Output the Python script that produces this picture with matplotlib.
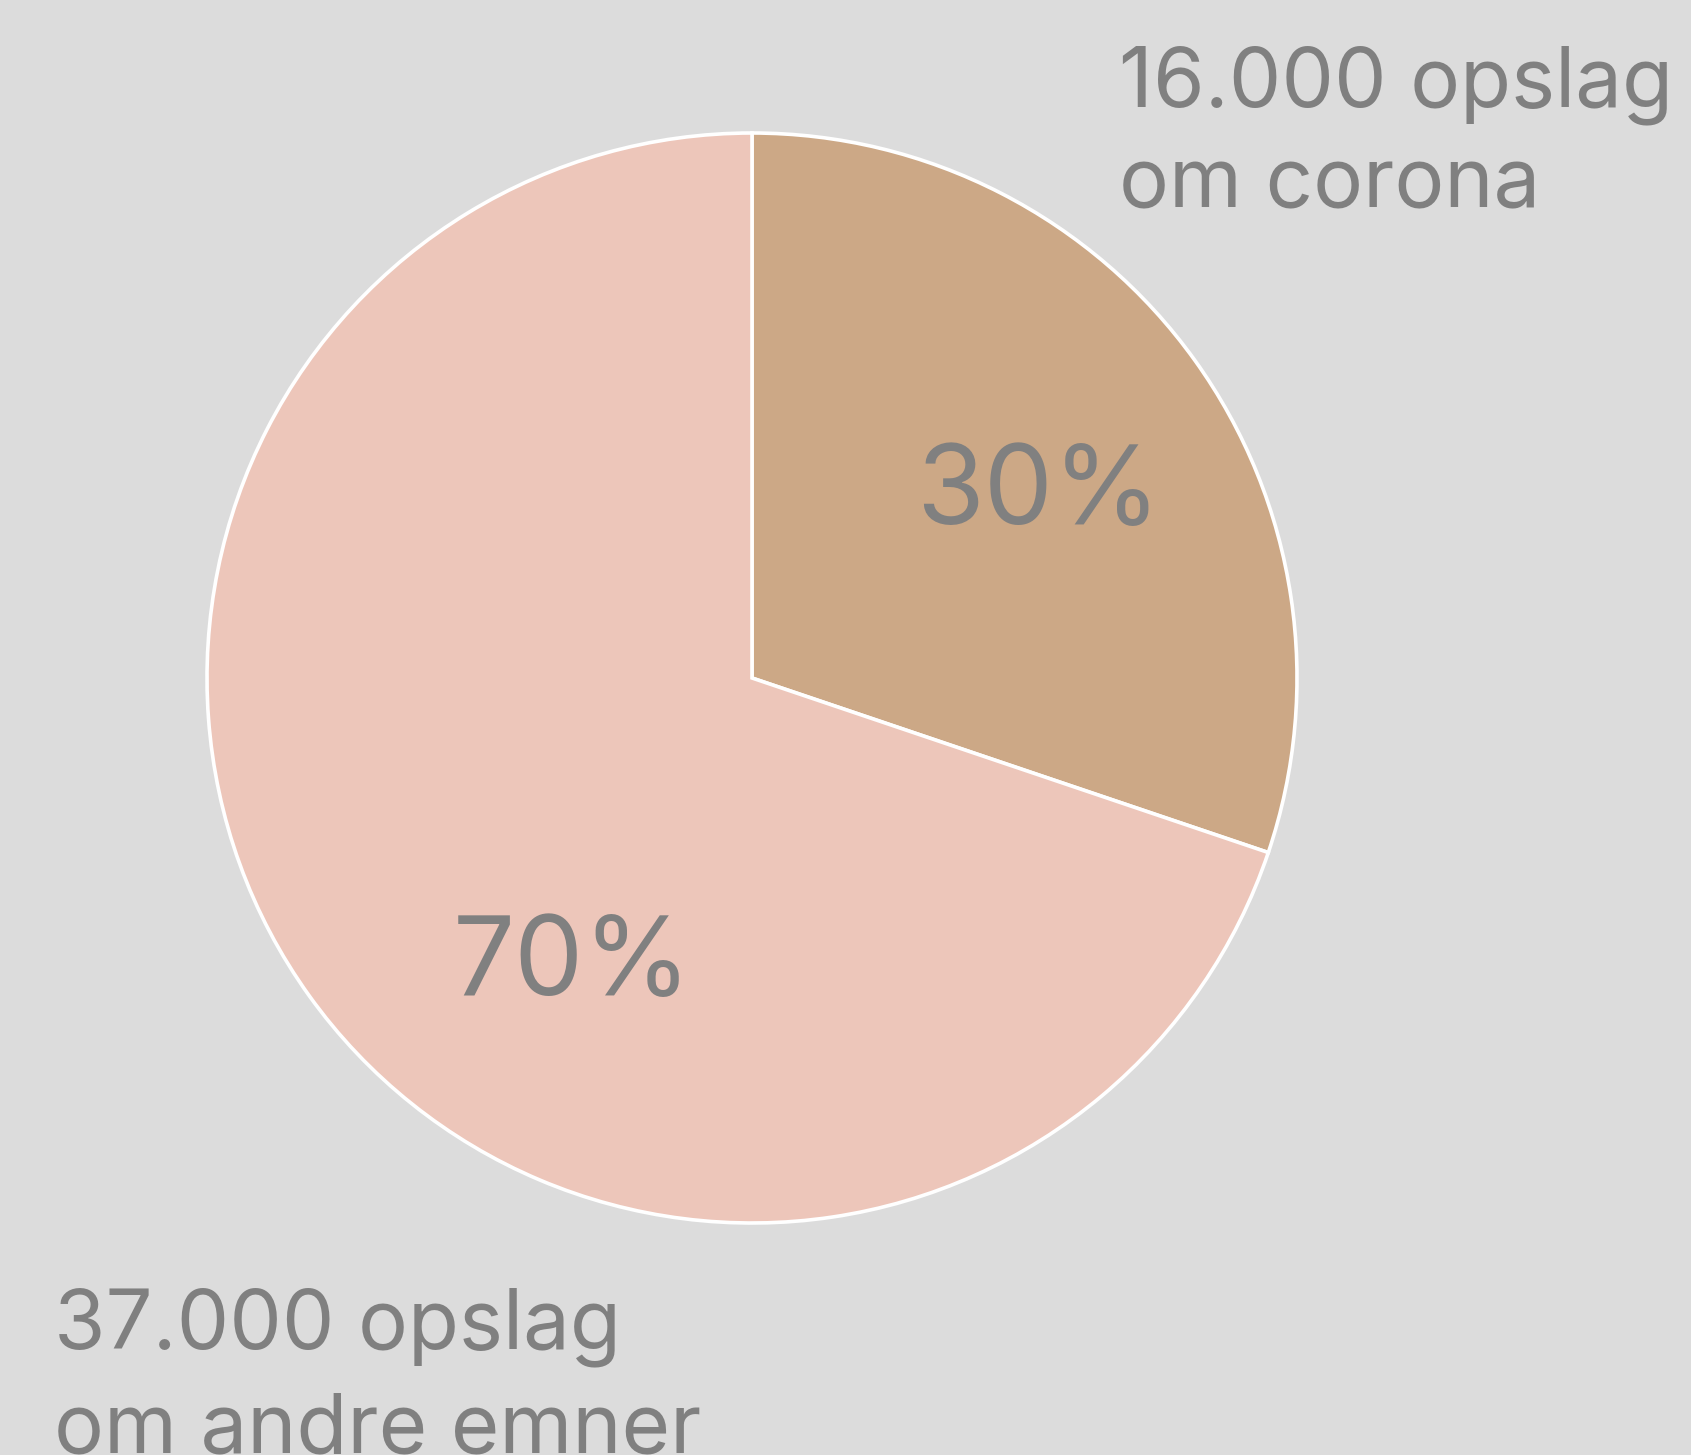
import matplotlib.pyplot as plt

labels = ["om corona", "om andre emner"]
counts = [16000, 37000]
pct_text = ["30%", "70%"]
colors = ["#cca886", "#edc6ba"]

bg = "#dcdcdc"
grey = "#808080"
plt.rcParams['font.family'] = ['Inter', 'DejaVu Sans']

W, H = 1691, 1455
fig = plt.figure(figsize=(W / 100, H / 100), dpi=100, facecolor=bg)

cx, cy, r = 752, 678, 545
ax = fig.add_axes([(cx - r) / W, (H - cy - r) / H, 2 * r / W, 2 * r / H])
ax.set_facecolor(bg)
ax.pie(counts, colors=colors, startangle=90, counterclock=False, radius=1,
       wedgeprops=dict(edgecolor="white", linewidth=2.6))
ax.set_xlim(-1, 1)
ax.set_ylim(-1, 1)
ax.set_aspect("equal")
ax.axis("off")

# percentage labels inside the slices
ax.text(0.525, 0.335, pct_text[0], fontsize=79, color=grey, ha="center", va="center")
ax.text(-0.33, -0.53, pct_text[1], fontsize=79, color=grey, ha="center", va="center")

# outside labels
fig.text(1119 / W, 1 - 106 / H, "{:,} opslag".format(counts[0]).replace(",", "."),
         fontsize=60, color=grey, ha="left", va="baseline")
fig.text(1119 / W, 1 - 207 / H, labels[0], fontsize=60, color=grey, ha="left", va="baseline")
fig.text(54 / W, 1 - 1348 / H, "{:,} opslag".format(counts[1]).replace(",", "."),
         fontsize=60, color=grey, ha="left", va="baseline")
fig.text(54 / W, 1 - 1452 / H, labels[1], fontsize=60, color=grey, ha="left", va="baseline")

fig.savefig("out.png", dpi=100, facecolor=bg)
